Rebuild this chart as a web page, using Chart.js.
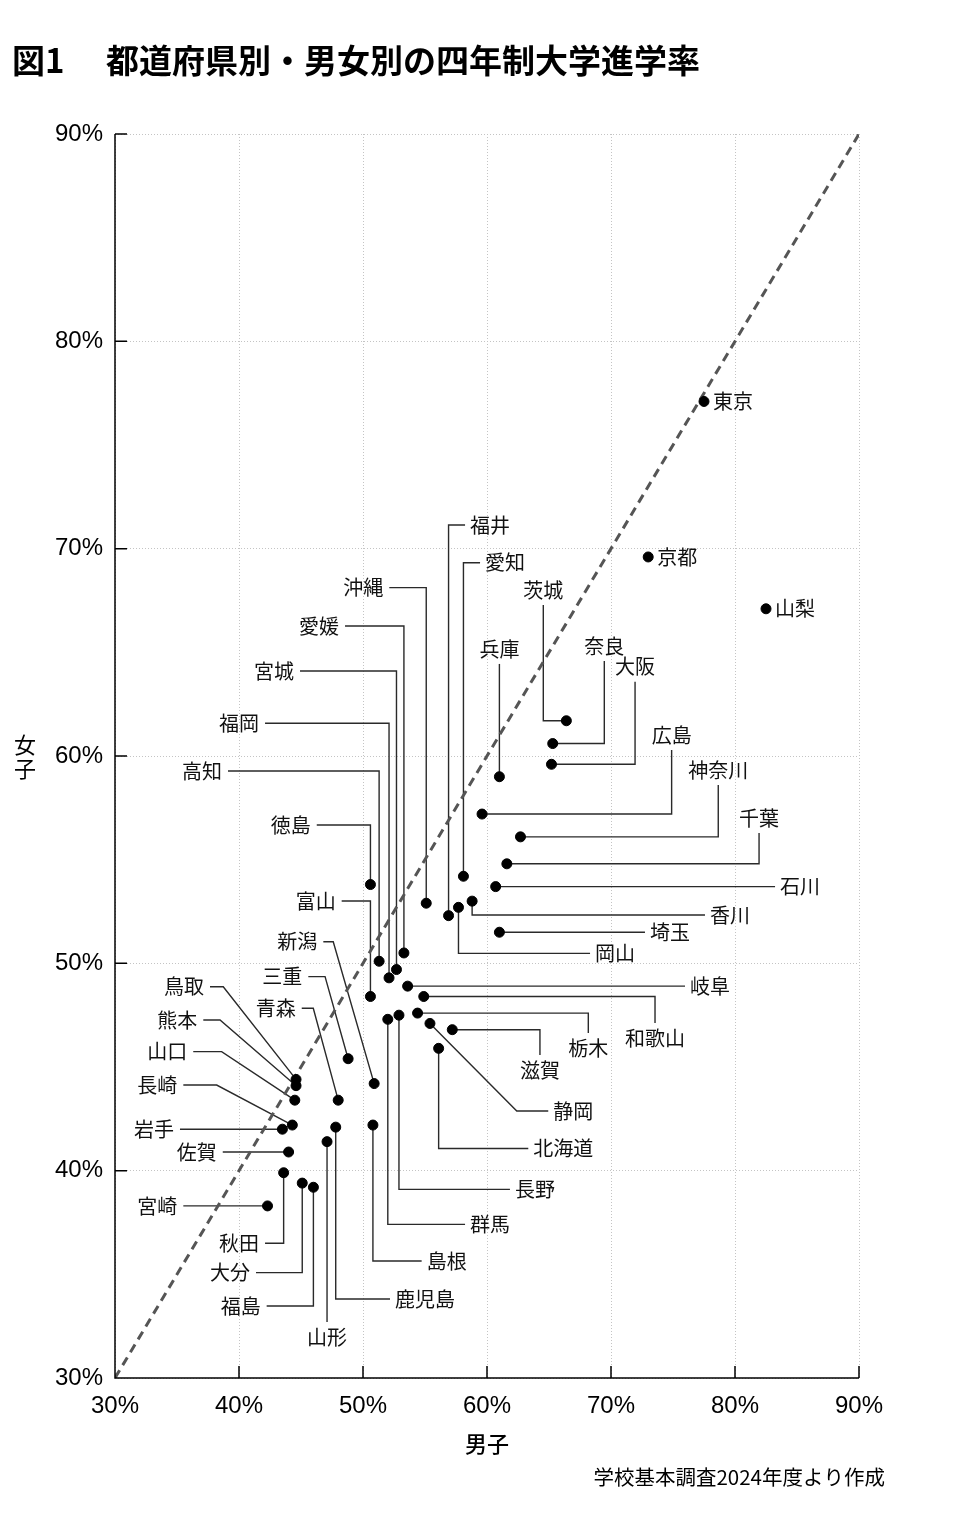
<!DOCTYPE html>
<html lang="ja">
<head>
<meta charset="utf-8">
<script src="https://cdn.jsdelivr.net/npm/chart.js@4/dist/chart.umd.min.js"></script>
<style>
  html, body { margin: 0; padding: 0; background: #fff; }
  canvas { display: block; }
</style>
</head>
<body>
<canvas id="chart" width="953" height="1522"></canvas>
<script>
const prefectures = ["北海道","青森","岩手","宮城","秋田","山形","福島","茨城","栃木","群馬","埼玉","千葉","東京","神奈川","新潟","富山","石川","福井","山梨","長野","岐阜","静岡","愛知","三重","滋賀","京都","大阪","兵庫","奈良","和歌山","鳥取","島根","岡山","広島","山口","徳島","香川","愛媛","高知","福岡","佐賀","長崎","熊本","大分","宮崎","鹿児島","沖縄"];
// 男子の進学率 (%)
const boys = [56.1,48.0,43.5,52.7,43.6,47.1,46.0,66.4,54.4,52.0,61.0,61.6,77.5,62.7,50.9,50.6,60.7,56.9,82.5,52.9,53.6,55.4,58.1,48.8,57.2,73.0,65.2,61.0,65.3,54.9,44.6,50.8,57.7,59.6,44.5,50.6,58.8,53.3,51.3,52.1,44.0,44.3,44.6,45.1,42.3,47.8,55.1];
// 女子の進学率 (%)
const girls = [45.9,43.4,42.0,49.7,39.9,41.4,39.2,61.7,47.6,47.3,51.5,54.8,77.1,56.1,44.2,48.4,53.7,52.3,67.1,47.5,48.9,47.1,54.2,45.4,46.8,69.6,59.6,59.0,60.6,48.4,44.4,42.2,52.7,57.2,43.4,53.8,53.0,50.5,50.1,49.3,40.9,42.2,44.1,39.4,38.3,42.1,52.9];
const axisTicks = [30, 40, 50, 60, 70, 80, 90];
const diagonal = [30, 90];

// ラベルの置き方: R=線の右, L=線の左, T=上, B=下, D=点の横
const labelSide = ["R","L","L","L","L","B","L","T","B","R","R","T","D","T","L","L","R","R","D","R","R","R","R","L","B","D","T","T","T","B","L","R","R","T","L","L","R","L","L","L","L","L","L","L","L","R","L"];
// 引き出し線 (軸の%単位): v=縦に移動, h=横に移動, p=斜めに移動
const leaderRoutes = [
  [["v",41.07],["h",63.33]],
  [["p",45.99,47.83],["h",45.06]],
  [["h",35.24]],
  [["v",64.10],["h",44.92]],
  [["v",36.50],["h",42.10]],
  [["v",32.70]],
  [["v",33.47],["h",42.23]],
  [["h",64.54],["v",67.28]],
  [["h",68.17],["v",46.64]],
  [["v",37.41],["h",58.23]],
  [["h",72.74]],
  [["h",81.94],["v",56.29]],
  [],
  [["h",78.65],["v",58.60]],
  [["p",47.60,51.04],["h",46.80]],
  [["v",53.01],["h",48.28]],
  [["h",83.23]],
  [["v",71.14],["h",58.23]],
  [],
  [["v",39.10],["h",61.85]],
  [["h",75.97]],
  [["p",62.40,42.88],["h",64.94]],
  [["v",69.32],["h",59.44]],
  [["p",46.94,49.36],["h",45.59]],
  [["h",64.27],["v",45.58]],
  [],
  [["h",71.94],["v",63.58]],
  [["v",64.44]],
  [["h",69.46],["v",64.58]],
  [["h",73.55],["v",47.12]],
  [["p",38.73,48.87],["h",37.66]],
  [["v",35.64],["h",54.73]],
  [["v",50.48],["h",68.31]],
  [["h",74.89],["v",60.29]],
  [["p",38.60,45.74],["h",36.31]],
  [["v",56.67],["h",46.27]],
  [["v",52.33],["h",77.58]],
  [["v",66.27],["h",48.55]],
  [["v",59.28],["h",39.11]],
  [["v",61.58],["h",42.10]],
  [["h",38.69]],
  [["p",38.20,44.13],["h",35.51]],
  [["p",38.47,47.27],["h",37.12]],
  [["v",35.08],["h",41.37]],
  [["h",35.51]],
  [["v",33.81],["h",52.18]],
  [["v",68.12],["h",52.12]]
];

const JP = '"Noto Sans CJK JP", "Noto Sans", sans-serif';
const LATIN = '"Liberation Sans", Arial, sans-serif';

function routePixels(i, x, y) {
  let cx = boys[i], cy = girls[i];
  const pts = [[x.getPixelForValue(cx), y.getPixelForValue(cy)]];
  leaderRoutes[i].forEach(m => {
    if (m[0] === "v") cy = m[1];
    else if (m[0] === "h") cx = m[1];
    else { cx = m[1]; cy = m[2]; }
    pts.push([x.getPixelForValue(cx), y.getPixelForValue(cy)]);
  });
  return pts;
}

const leaderPlugin = {
  id: "leaders",
  beforeDatasetsDraw(chart) {
    const { ctx, scales: { x, y } } = chart;
    ctx.save();
    ctx.strokeStyle = "#2a2a2a";
    ctx.lineWidth = 1.4;
    prefectures.forEach((name, i) => {
      const pts = routePixels(i, x, y);
      if (pts.length < 2) return;
      ctx.beginPath();
      ctx.moveTo(pts[0][0], pts[0][1]);
      pts.slice(1).forEach(p => ctx.lineTo(p[0], p[1]));
      ctx.stroke();
    });
    ctx.restore();
  },
  afterDatasetsDraw(chart) {
    const { ctx, scales: { x, y } } = chart;
    ctx.save();
    ctx.fillStyle = "#111";
    ctx.font = `20px ${JP}`;
    ctx.textBaseline = "middle";
    prefectures.forEach((name, i) => {
      const pts = routePixels(i, x, y);
      const [ex, ey] = pts[pts.length - 1];
      const side = labelSide[i];
      if (side === "R") { ctx.textAlign = "left"; ctx.fillText(name, ex + 5, ey); }
      else if (side === "L") { ctx.textAlign = "right"; ctx.fillText(name, ex - 6, ey); }
      else if (side === "T") { ctx.textAlign = "center"; ctx.fillText(name, ex, ey - 15); }
      else if (side === "B") { ctx.textAlign = "center"; ctx.fillText(name, ex, ey + 15); }
      else { ctx.textAlign = "left"; ctx.fillText(name, ex + 9, ey); }
    });
    ctx.restore();
  },
  afterDraw(chart) {
    const { ctx, chartArea: a, scales: { x, y } } = chart;
    ctx.save();
    // 軸線と内向きの目盛
    ctx.strokeStyle = "#000";
    ctx.lineWidth = 1.5;
    ctx.beginPath();
    ctx.moveTo(a.left, a.top);
    ctx.lineTo(a.left, a.bottom);
    ctx.lineTo(a.right, a.bottom);
    axisTicks.forEach(t => {
      const px = x.getPixelForValue(t);
      ctx.moveTo(px, a.bottom);
      ctx.lineTo(px, a.bottom - 12);
      const py = y.getPixelForValue(t);
      ctx.moveTo(a.left, py);
      ctx.lineTo(a.left + 12, py);
    });
    ctx.stroke();

    ctx.fillStyle = "#000";
    ctx.textBaseline = "middle";
    ctx.font = `bold 33px ${JP}`;
    ctx.textAlign = "left";
    ctx.fillText("図1", 12, 60);
    ctx.fillText("都道府県別・男女別の四年制大学進学率", 106, 60);

    ctx.font = `22px ${JP}`;
    ctx.textAlign = "center";
    ctx.fillText("女", 25, 745);
    ctx.fillText("子", 25, 769);

    ctx.font = `20.5px ${JP}`;
    ctx.textAlign = "right";
    ctx.fillText("学校基本調査2024年度より作成", 885, 1477);
    ctx.restore();
  }
};

const tickFont = { family: LATIN, size: 24 };

new Chart(document.getElementById("chart"), {
  type: "scatter",
  data: {
    datasets: [
      {
        data: diagonal.map(v => ({ x: v, y: v })),
        showLine: true,
        borderColor: "#555",
        borderWidth: 3,
        borderDash: [9, 6],
        pointRadius: 0,
        order: 2
      },
      {
        data: prefectures.map((p, i) => ({ x: boys[i], y: girls[i] })),
        backgroundColor: "#000",
        borderColor: "#000",
        pointRadius: 5,
        order: 1
      }
    ]
  },
  options: {
    responsive: false,
    animation: false,
    layout: { padding: { left: 0, top: 134, right: 94, bottom: 62 } },
    plugins: { legend: { display: false }, tooltip: { enabled: false } },
    scales: {
      x: {
        type: "linear",
        min: 30,
        max: 90,
        ticks: { stepSize: 10, callback: v => v + "%", font: tickFont, color: "#000", padding: 14 },
        grid: { color: "#c4c4c4", drawTicks: false },
        border: { display: false, dash: [1, 2] },
        title: { display: true, text: "男子", font: { family: JP, size: 22, weight: "500" }, color: "#000", padding: { top: 0, bottom: 3 } },
        afterFit: s => { s.height = 82; }
      },
      y: {
        type: "linear",
        min: 30,
        max: 90,
        ticks: { stepSize: 10, callback: v => v + "%", font: tickFont, color: "#000", padding: 12 },
        grid: { color: "#c4c4c4", drawTicks: false },
        border: { display: false, dash: [1, 2] },
        afterFit: s => { s.width = 115; }
      }
    }
  },
  plugins: [leaderPlugin]
});
</script>
</body>
</html>
